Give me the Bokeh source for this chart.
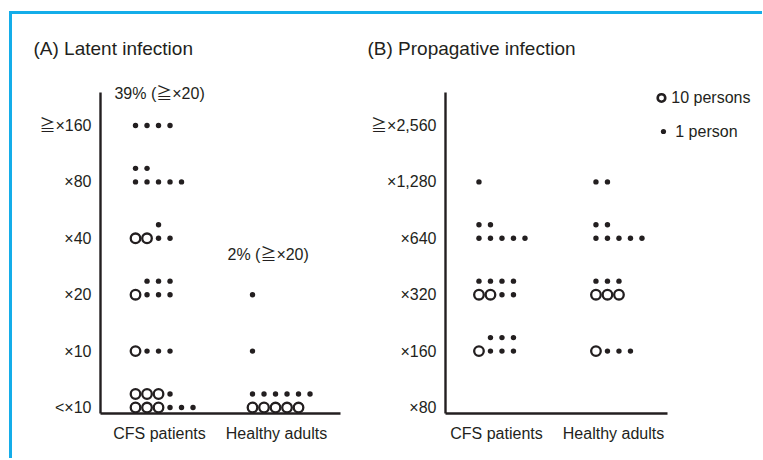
from bokeh.plotting import figure
from bokeh.models import Range1d, FixedTicker, Label
from bokeh.layouts import row
from bokeh.embed import file_html
from bokeh.resources import INLINE

INK = "#231f20"
CYAN = "#14ade9"
FONT = "Liberation Sans, Noto Sans CJK JP"

# ---------------- data ----------------
GROUPS = ["CFS patients", "Healthy adults"]
TITERS_A = ["<×10", "×10", "×20", "×40", "×80", "≧×160"]
TITERS_B = ["×80", "×160", "×320", "×640", "×1,280", "≧×2,560"]
TITLE_A = "(A) Latent infection"
TITLE_B = "(B) Propagative infection"

# One list entry per titer level (bottom -> top); each level is a list of rows
# (bottom row first).  'O' = 10 persons, '.' = 1 person, ' ' = empty slot.
A_CFS = [["OOO...", "OOO."], ["O..."], ["O...", " ..."], ["OO..", "  ."], [".....", ".."], ["...."]]
A_HEALTHY = [["OOOOO", "......"], ["."], ["."], [], [], []]
B_CFS = [[], ["O...", " ..."], ["OO..", "...."], [".....", ".."], ["."], []]
B_HEALTHY = [[], ["O..."], ["OOO", "..."], [".....", ".."], [".."], []]

LEGEND_ITEMS = ["10 persons", "1 person"]
CUTOFF_LEVEL_A = 2  # >= x20


def count(levels):
    return [sum(10 * r.count("O") + r.count(".") for r in rows) for rows in levels]


def expand(levels, group_pos, col0, dx, dy):
    cx, cy, dx_, dy_ = [], [], [], []
    for lev, rows in enumerate(levels):
        for r, rw in enumerate(rows):
            for c, ch in enumerate(rw):
                x = group_pos + col0 + c * dx
                y = lev + r * dy
                if ch == "O":
                    cx.append(x); cy.append(y)
                elif ch == ".":
                    dx_.append(x); dy_.append(y)
    return cx, cy, dx_, dy_


def panel(width, bl, br, xr, titers, groups_levels, col0):
    p = figure(width=width, height=444, output_backend="svg", toolbar_location=None,
               title=None, x_range=Range1d(*xr), y_range=Range1d(-0.106, 5.585),
               min_border_left=bl, min_border_right=br, min_border_top=78,
               min_border_bottom=45)
    p.outline_line_color = None
    p.grid.visible = False
    p.background_fill_color = "white"
    p.border_fill_color = "white"
    for ax in (p.xaxis, p.yaxis):
        ax.axis_line_color = INK
        ax.axis_line_width = 2.4
        ax.major_tick_line_color = None
        ax.minor_tick_line_color = None
        ax.major_tick_out = 0
        ax.major_tick_in = 0
        ax.major_label_text_font = FONT
        ax.major_label_text_font_size = "16px"
        ax.major_label_text_color = INK
    p.yaxis.ticker = FixedTicker(ticks=list(range(len(titers))))
    p.yaxis.major_label_overrides = {i: t for i, t in enumerate(titers)}
    p.yaxis.major_label_standoff = 9
    p.xaxis.ticker = FixedTicker(ticks=[1, 2])
    p.xaxis.major_label_overrides = {i + 1: g for i, g in enumerate(GROUPS)}
    p.xaxis.major_label_standoff = 11

    dx, dy = 0.0983, 0.24
    for gi, levels in enumerate(groups_levels):
        cx, cy, ddx, ddy = expand(levels, gi + 1, col0, dx, dy)
        p.scatter(cx, cy, marker="circle", size=9.6, fill_color=None,
                  line_color=INK, line_width=2.3)
        p.scatter(ddx, ddy, marker="circle", size=5.4, fill_color=INK,
                  line_color=None)
    return p


def label(p, x, y, text, size="16px"):
    # placed in a side panel so that it is not clipped to the plot frame
    p.add_layout(Label(x=x, y=y, text=text, text_font=FONT, text_font_size=size,
                       text_color=INK, text_baseline="middle", text_align="left"),
                 "above")


pa = panel(348, 88, 20, (0.4957, 2.547), TITERS_A, [A_CFS, A_HEALTHY], -0.205)
pb = panel(402, 85, 95, (0.564, 2.4615), TITERS_B, [B_CFS, B_HEALTHY], -0.150)

label(pa, -0.077, 6.365, TITLE_A, "19px")
label(pb, -0.103, 6.365, TITLE_B, "19px")

# percentage annotations computed from the counts
ca, ha = count(A_CFS), count(A_HEALTHY)
pct_c = round(100 * sum(ca[CUTOFF_LEVEL_A:]) / sum(ca))
pct_h = round(100 * sum(ha[CUTOFF_LEVEL_A:]) / sum(ha))
label(pa, 0.615, 5.567, f"{pct_c}% (≧{TITERS_A[CUTOFF_LEVEL_A]})")
label(pa, 1.581, 2.713, f"{pct_h}% (≧{TITERS_A[CUTOFF_LEVEL_A]})")

# legend (panel B)
pb.scatter([2.410], [5.488], marker="circle", size=7.6, fill_color=None,
           line_color=INK, line_width=2.6)
pb.scatter([2.427], [4.894], marker="circle", size=5.2, fill_color=INK, line_color=None)
label(pb, 2.494, 5.496, LEGEND_ITEMS[0])
label(pb, 2.528, 4.894, LEGEND_ITEMS[1])

layout = row(pa, pb, spacing=0, styles={
    "border-top": f"3px solid {CYAN}",
    "border-left": f"3px solid {CYAN}",
    "margin-top": "11px",
    "margin-left": "9px",
})

open("out.html", "w", encoding="utf-8").write(file_html(layout, INLINE))
